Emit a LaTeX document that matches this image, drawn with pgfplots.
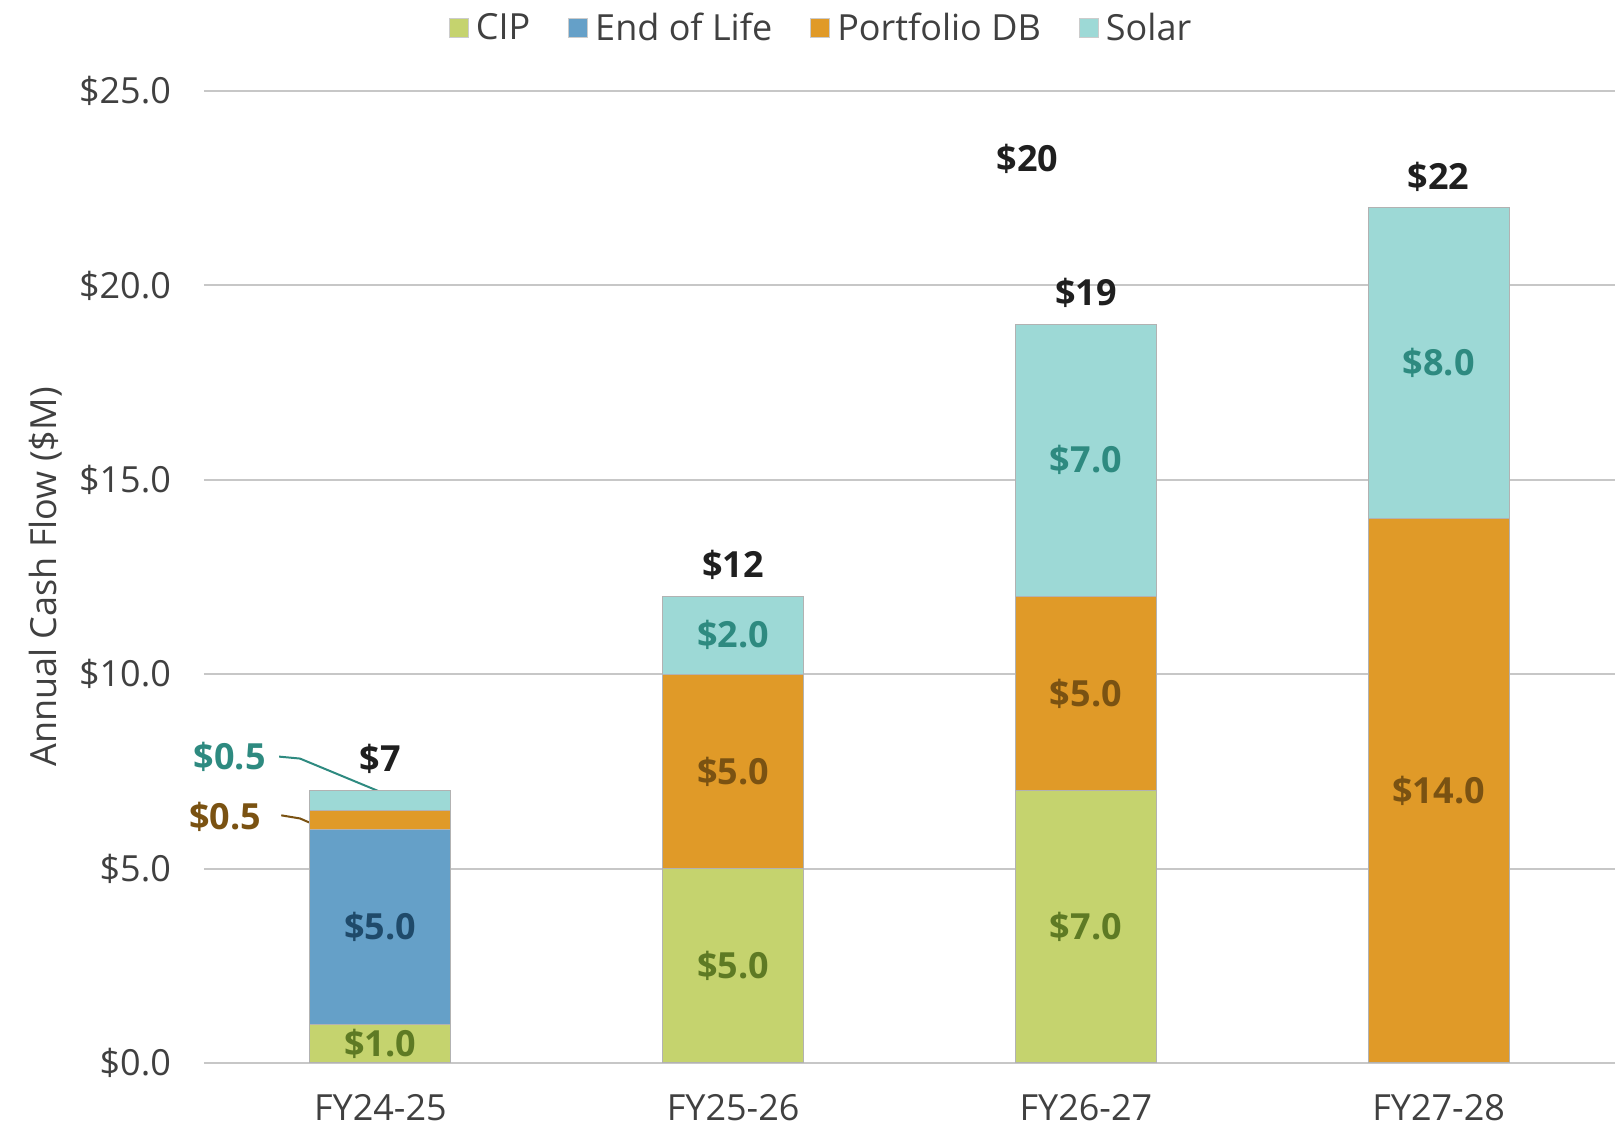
\documentclass[border=0pt]{standalone}
\usepackage{pgfplots}
\pgfplotsset{compat=1.18}
\usepackage{fontspec}
\setmainfont{Open Sans}
\definecolor{cip}{HTML}{C5D36E}
\definecolor{eol}{HTML}{65A0C8}
\definecolor{pdb}{HTML}{E09A28}
\definecolor{sol}{HTML}{9DD9D6}
\definecolor{cipt}{HTML}{5E7A24}
\definecolor{eolt}{HTML}{1F4A6A}
\definecolor{pdbt}{HTML}{7A5212}
\definecolor{solt}{HTML}{2E8A80}
\definecolor{tickc}{HTML}{404040}
\newcommand{\fs}{\fontsize{18}{22}\selectfont}
\pgfplotsset{
  legsq/.style={legend image code/.code={\draw[##1, draw=black!20] (0pt,-4.75pt) rectangle (9.5pt,4.75pt); \path (11pt,0pt);}},
}
\begin{document}
\begin{tikzpicture}
\begin{axis}[
  clip=false,
  scale only axis,
  width=705.5pt, height=486pt,
  ybar stacked, bar width=0.4,
  xmin=-0.5, xmax=3.5, ymin=0, ymax=25,
  xtick={0,1,2,3},
  xticklabels={FY24-25,FY25-26,FY26-27,FY27-28},
  ytick={0,5,10,15,20,25},
  yticklabel={\$\pgfmathprintnumber[fixed,fixed zerofill,precision=1]{\tick}},
  /pgf/number format/assume math mode=true,
  major tick length=0pt,
  axis line style={draw=none},
  ymajorgrids,
  grid style={color=black!22, line width=1pt},
  tick label style={font=\fs, text=tickc},
  yticklabel style={xshift=-13pt},
  xticklabel style={yshift=-12pt},
  every axis y label/.style={at={(axis description cs:-0.112,0.5)}, rotate=90, anchor=center},
  ylabel={Annual Cash Flow (\$M)},
  ylabel style={font=\fs, text=tickc},
  legend columns=4,
  legend style={draw=none, fill=none, font=\fs, text=tickc,
    at={(0.438,1)}, anchor=center, yshift=31.5pt,
    /tikz/every even column/.append style={column sep=17pt}},
]
\addplot[fill=cip, draw=black!30, line width=0.5pt, legsq] coordinates {(0,1) (1,5) (2,7) (3,0)};
\addplot[fill=eol, draw=black!30, line width=0.5pt, legsq] coordinates {(0,5) (1,0) (2,0) (3,0)};
\addplot[fill=pdb, draw=black!30, line width=0.5pt, legsq] coordinates {(0,0.5) (1,5) (2,5) (3,14)};
\addplot[fill=sol, draw=black!30, line width=0.5pt, legsq] coordinates {(0,0.5) (1,2) (2,7) (3,8)};
\legend{CIP, End of Life, Portfolio DB, Solar}
\coordinate (a1) at (axis cs:0,0.5);
\coordinate (a2) at (axis cs:1,2.5);
\coordinate (a3) at (axis cs:2,3.5);
\coordinate (b1) at (axis cs:0,3.5);
\coordinate (c2) at (axis cs:1,7.5);
\coordinate (c3) at (axis cs:2,9.5);
\coordinate (c4) at (axis cs:3,7);
\coordinate (d2) at (axis cs:1,11);
\coordinate (d3) at (axis cs:2,15.5);
\coordinate (d4) at (axis cs:3,18);
\coordinate (t1) at (axis cs:0,7.83);
\coordinate (t2) at (axis cs:1,12.82);
\coordinate (t3) at (axis cs:2,19.8);
\coordinate (t4) at (axis cs:3,22.8);
\coordinate (t5) at (axis cs:1.835,23.25);
\coordinate (o1) at (axis cs:-0.305,7.88);
\coordinate (o2) at (axis cs:-0.318,6.32);
\draw[solt, line width=1pt] (axis cs:-0.287,7.88) -- (axis cs:-0.228,7.83) -- (axis cs:0.006,6.95);
\draw[pdbt, line width=1pt] (axis cs:-0.281,6.37) -- (axis cs:-0.228,6.29) -- (axis cs:-0.2,6.18);
\end{axis}
\begin{scope}[every node/.style={font=\fs\bfseries, anchor=center}]
\node[text=cipt] at (a1) {\$1.0};
\node[text=cipt] at (a2) {\$5.0};
\node[text=cipt] at (a3) {\$7.0};
\node[text=eolt] at (b1) {\$5.0};
\node[text=pdbt] at (c2) {\$5.0};
\node[text=pdbt] at (c3) {\$5.0};
\node[text=pdbt] at (c4) {\$14.0};
\node[text=solt] at (d2) {\$2.0};
\node[text=solt] at (d3) {\$7.0};
\node[text=solt] at (d4) {\$8.0};
\node[text=black!88] at (t1) {\$7};
\node[text=black!88] at (t2) {\$12};
\node[text=black!88] at (t3) {\$19};
\node[text=black!88] at (t4) {\$22};
\node[text=black!88] at (t5) {\$20};
\node[text=solt, anchor=east] at (o1) {\$0.5};
\node[text=pdbt, anchor=east] at (o2) {\$0.5};
\end{scope}
\pgfresetboundingbox
\path ([xshift=-102pt,yshift=-30.5pt]current axis.south west) rectangle ([xshift=1.5pt,yshift=45.5pt]current axis.north east);
\end{tikzpicture}
\end{document}
